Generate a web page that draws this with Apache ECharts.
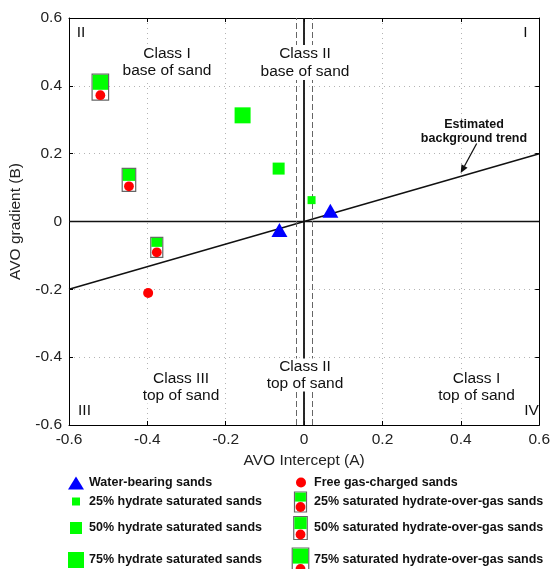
<!DOCTYPE html>
<html>
<head>
<meta charset="utf-8">
<script src="https://cdn.jsdelivr.net/npm/echarts@6.0.0/dist/echarts.min.js"></script>
<style>
  html, body { margin: 0; padding: 0; background: #fff; }
  #chart { width: 553px; height: 569px; }
</style>
</head>
<body>
<div id="chart"></div>
<script>
// values (A = intercept, B = gradient)
const waterA = [-0.063, 0.067];
const waterB = [-0.025, 0.032];
const gasA = [-0.398];
const gasB = [-0.211];
const hydrateA = [0.019, -0.065, -0.157];
const hydrateB = [0.063, 0.156, 0.313];
const hydrateSat = [25, 50, 75];
const hogA = [-0.376, -0.447, -0.520];
const hogB = [-0.076, 0.123, 0.396];
const hogSat = [25, 50, 75];
const trendA = [-0.6, 0.6];
const trendB = [-0.2, 0.2];
const zeroLine = [0];
const dashLinesA = [-0.017, 0.017];

const legendLeft = ['Water-bearing sands', '25% hydrate saturated sands', '50% hydrate saturated sands', '75% hydrate saturated sands'];
const legendRight = ['Free gas-charged sands', '25% saturated hydrate-over-gas sands', '50% saturated hydrate-over-gas sands', '75% saturated hydrate-over-gas sands'];

const FONT = '"Liberation Sans", Arial, sans-serif';
const GREEN = '#00ff00', RED = '#ff0000', BLUE = '#0000ff';
const squareSize = {25: 8, 50: 12, 75: 16};
const hogDims = {25: {w: 12, g: 9, h: 20}, 50: {w: 13.5, g: 12, h: 23}, 75: {w: 16.5, g: 15, h: 26}};

// box with green square on top and red dot below
function hogShapes(cx, cy, d) {
  const top = cy - d.h / 2, left = cx - d.w / 2;
  return [
    {type: 'rect', shape: {x: left, y: top, width: d.w, height: d.h}, style: {fill: '#fff', stroke: '#666', lineWidth: 1.2}},
    {type: 'rect', shape: {x: left + 0.6, y: top + 0.6, width: d.w - 1.2, height: d.g}, style: {fill: GREEN}},
    {type: 'circle', shape: {cx: cx, cy: top + d.h - 5, r: 4.9}, style: {fill: RED}}
  ];
}

function txt(x, y, text, opt) {
  opt = opt || {};
  return {
    type: 'text', x: x, y: y, z: 100,
    style: {
      text: text, fill: '#111', fontFamily: FONT,
      fontSize: opt.size || 15.5, fontWeight: opt.weight || 'normal',
      align: opt.align || 'center', verticalAlign: 'middle',
      lineHeight: opt.lh || 17,
      backgroundColor: opt.bg || null, padding: opt.bg ? [0, 2] : 0
    }
  };
}

function arrow(x1, y1, x2, y2) {
  const dx = x2 - x1, dy = y2 - y1, L = Math.sqrt(dx * dx + dy * dy);
  const ux = dx / L, uy = dy / L, hl = 8, hw = 3.5;
  const bx = x2 - ux * hl, by = y2 - uy * hl;
  return [
    {type: 'line', z: 100, shape: {x1: x1, y1: y1, x2: bx, y2: by}, style: {stroke: '#111', lineWidth: 1.3}},
    {type: 'polygon', z: 100, shape: {points: [[x2, y2], [bx - uy * hw, by + ux * hw], [bx + uy * hw, by - ux * hw]]}, style: {fill: '#111'}}
  ];
}

const graphics = [
  txt(81, 33, 'II'), txt(525.5, 32.5, 'I'), txt(84.5, 410.5, 'III'), txt(531.5, 410.5, 'IV'),
  txt(167, 62, 'Class I\nbase of sand', {bg: '#fff', lh: 17.5}),
  txt(305, 62.5, 'Class II\nbase of sand', {bg: '#fff', lh: 17.5}),
  txt(305, 375, 'Class II\ntop of sand', {bg: '#fff', lh: 16.5}),
  txt(181, 387, 'Class III\ntop of sand', {bg: '#fff', lh: 16.5}),
  txt(476.5, 387, 'Class I\ntop of sand', {bg: '#fff', lh: 16.5}),
  txt(474, 132, 'Estimated\nbackground trend', {size: 12.5, weight: 'bold', lh: 14})
].concat(arrow(476.7, 143.5, 460.7, 173));

// legend
const rowY = [482.5, 501.5, 528, 560];
graphics.push({type: 'polygon', z: 100, shape: {points: [[76, 476.5], [84, 489.5], [68, 489.5]]}, style: {fill: BLUE}});
[25, 50, 75].forEach(function (s, i) {
  const sz = squareSize[s], y = rowY[i + 1];
  graphics.push({type: 'rect', z: 100, shape: {x: 76 - sz / 2, y: y - sz / 2, width: sz, height: sz}, style: {fill: GREEN}});
});
graphics.push({type: 'circle', z: 100, shape: {cx: 301, cy: 482.5, r: 5}, style: {fill: RED}});
const hogLegendY = [502, 528, 561];
[25, 50, 75].forEach(function (s, i) {
  graphics.push({type: 'group', z: 100, children: hogShapes(300.5, hogLegendY[i], hogDims[s])});
});
legendLeft.forEach(function (t, i) { graphics.push(txt(89, rowY[i], t, {size: 12.5, weight: 'bold', align: 'left'})); });
legendRight.forEach(function (t, i) { graphics.push(txt(314, rowY[i], t, {size: 12.5, weight: 'bold', align: 'left'})); });

const axisCommon = {
  type: 'value', min: -0.6, max: 0.6, interval: 0.2,
  axisLine: {show: true, onZero: false, lineStyle: {color: '#000', width: 1}},
  axisTick: {show: true, inside: true, length: 4, lineStyle: {color: '#000'}}
};
const labelStyle = {color: '#222', fontSize: 15.5, fontFamily: FONT, margin: 7,
  formatter: function (v) { return String(+v.toFixed(1)); }};
const nameStyle = {color: '#222', fontSize: 15.5, fontFamily: FONT};

const chart = echarts.init(document.getElementById('chart'));
chart.setOption({
  animation: false,
  backgroundColor: '#fff',
  grid: {left: 68, right: 11, top: 18, bottom: 144},
  xAxis: [
    Object.assign({}, axisCommon, {
      position: 'bottom', name: 'AVO Intercept (A)', nameLocation: 'middle', nameGap: 27,
      nameTextStyle: nameStyle, axisLabel: labelStyle,
      splitLine: {show: true, lineStyle: {color: '#b4b4b4', type: [1, 4]}}
    }),
    Object.assign({}, axisCommon, {position: 'top', axisLabel: {show: false}, splitLine: {show: false}})
  ],
  yAxis: [
    Object.assign({}, axisCommon, {
      position: 'left', name: 'AVO gradient (B)', nameLocation: 'middle', nameGap: 45,
      nameTextStyle: nameStyle, axisLabel: labelStyle,
      splitLine: {show: true, lineStyle: {color: '#b4b4b4', type: [1, 4]}}
    }),
    Object.assign({}, axisCommon, {position: 'right', axisLabel: {show: false}, splitLine: {show: false}})
  ],
  graphic: graphics,
  series: [
    {
      type: 'line', name: 'trend', z: 3,
      data: trendA.map(function (a, i) { return [a, trendB[i]]; }),
      symbol: 'none', lineStyle: {color: '#111', width: 1.5},
      markLine: {
        silent: true, symbol: 'none', label: {show: false},
        data: zeroLine.map(function (v) { return {yAxis: v, lineStyle: {color: '#111', width: 1.3, type: 'solid'}}; })
          .concat(zeroLine.map(function (v) { return {xAxis: v, lineStyle: {color: '#111', width: 1.8, type: 'solid'}}; }))
          .concat(dashLinesA.map(function (v) { return {xAxis: v, lineStyle: {color: '#666', width: 1, type: [6, 3]}}; }))
      }
    },
    {
      type: 'scatter', name: 'water', z: 5,
      data: waterA.map(function (a, i) { return [a, waterB[i]]; }),
      symbol: 'triangle', symbolSize: [16, 14], itemStyle: {color: BLUE, opacity: 1}
    },
    {
      type: 'scatter', name: 'gas', z: 5,
      data: gasA.map(function (a, i) { return [a, gasB[i]]; }),
      symbol: 'circle', symbolSize: 10, itemStyle: {color: RED, opacity: 1}
    },
    {
      type: 'scatter', name: 'hydrate', z: 5,
      data: hydrateA.map(function (a, i) { return [a, hydrateB[i], hydrateSat[i]]; }),
      symbol: 'rect', symbolSize: function (v) { return squareSize[v[2]]; }, itemStyle: {color: GREEN, opacity: 1}
    },
    {
      type: 'custom', name: 'hydrate-over-gas', z: 5,
      encode: {x: 0, y: 1},
      data: hogA.map(function (a, i) { return [a, hogB[i], hogSat[i]]; }),
      renderItem: function (params, api) {
        const p = api.coord([api.value(0), api.value(1)]);
        return {type: 'group', children: hogShapes(p[0], p[1], hogDims[api.value(2)])};
      }
    }
  ]
});
</script>
</body>
</html>
